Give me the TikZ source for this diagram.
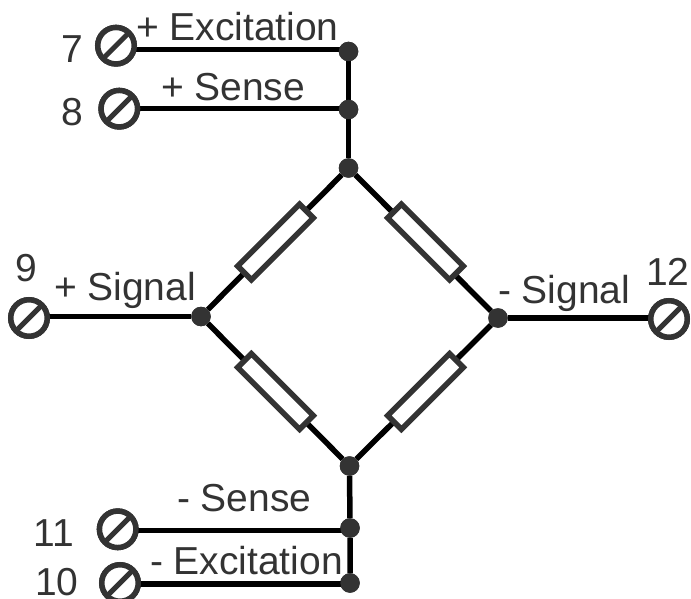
\documentclass[tikz,border=0pt]{standalone}
\usepackage{fontspec}
\setmainfont{Liberation Sans}
\definecolor{ink}{HTML}{333333}
\tikzset{
  lab/.style={anchor=base west,inner sep=0pt,outer sep=0pt,text=ink,font=\fontsize{39}{41}\selectfont},
  junction/.style={circle,fill=ink,draw=none,minimum size=19.5pt,inner sep=0pt,outer sep=0pt},
  terminal/.style={circle,draw=ink,line width=5.5pt,fill=white,minimum size=36.5pt,inner sep=0pt,outer sep=0pt},
  slash/.style={draw=ink,line width=5pt},
  wire/.style={draw=black,line width=5.5pt},
  resistor/.style={rectangle,draw=ink,line width=5.5pt,fill=white,minimum width=87.5pt,minimum height=19.5pt,inner sep=0pt,outer sep=0pt}
}
\begin{document}
\begin{tikzpicture}[x=1pt,y=-1pt]
\useasboundingbox (0,0) rectangle (691,599);
% junctions
\node[junction] (j1) at (348.5,51.5) {};
\node[junction] (j2) at (348.5,109.5) {};
\node[junction] (top) at (348.5,168) {};
\node[junction] (left) at (201,316.5) {};
\node[junction] (right) at (498,318) {};
\node[junction] (bot) at (349.5,466) {};
\node[junction] (j3) at (350,528) {};
\node[junction] (j4) at (350,583) {};
% terminals
\node[terminal] (t7) at (116,45.7) {};
\node[terminal] (t8) at (119.3,108.7) {};
\node[terminal] (t9) at (29,318) {};
\node[terminal] (t12) at (669,319) {};
\node[terminal] (t11) at (117.7,529.3) {};
\node[terminal] (t10) at (120,583) {};
% wire ends level with each terminal lead
\coordinate (w7a) at (116,49.5);   \coordinate (w7b) at (348.5,49.5);
\coordinate (w8a) at (119.3,108.5);\coordinate (w8b) at (348.5,108.5);
\coordinate (w9a) at (29,316.5);   \coordinate (w12b) at (669,318);
\coordinate (w11a) at (117.7,530.5);\coordinate (w11b) at (350,530.5);
\coordinate (w10a) at (120,584);   \coordinate (w10b) at (350,584);
% wires
\draw[wire] (top) -- (left) -- (bot) -- (right) -- (top);
\draw[wire] (j1) -- (j2) -- (top);
\draw[wire] (bot) -- (j3) -- (j4);
\draw[wire] (w7a) -- (w7b);
\draw[wire] (w8a) -- (w8b);
\draw[wire] (w9a) -- (left);
\draw[wire] (right) -- (w12b);
\draw[wire] (w11a) -- (w11b);
\draw[wire] (w10a) -- (w10b);
% resistors
\node[resistor,rotate=45] (r1) at (275.5,242) {};
\node[resistor,rotate=-45] (r2) at (425.5,242) {};
\node[resistor,rotate=-45] (r3) at (275.5,391.5) {};
\node[resistor,rotate=45] (r4) at (425.5,391.5) {};
% terminals repainted over their leads
\foreach \n in {t7,t8,t9,t12,t11,t10}{
  \node[terminal] at (\n) {};
  \draw[slash] (\n.225) -- (\n.45);
}
% junction dots on top
\foreach \n in {j1,j2,top,left,right,bot,j3,j4}{
  \fill[ink] (\n) circle (9.75pt);
}
% labels
\node[lab] (l1) at (136,41) {+ Excitation};
\node[lab] (l2) at (161,101) {+ Sense};
\node[lab] (l3) at (54,300) {+ Signal};
\node[lab] (l4) at (498,303) {- Signal};
\node[lab] (l5) at (177,511) {- Sense};
\node[lab] (l6) at (150,574) {- Excitation};
\node[lab] (n7) at (61,63) {7};
\node[lab] (n8) at (61,126) {8};
\node[lab] (n9) at (16,281) {9};
\node[lab] (n12) at (646,285) {12};
\node[lab] (n11) at (34,546) {11};
\node[lab] (n10) at (35,595) {10};
\end{tikzpicture}
\end{document}
